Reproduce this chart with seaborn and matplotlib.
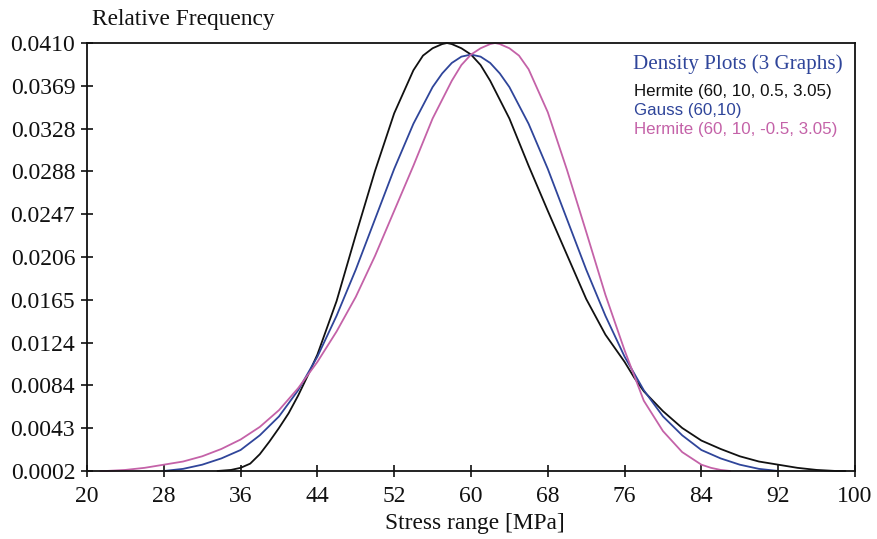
import pandas as pd
import matplotlib.pyplot as plt
import seaborn as sns

# --- Data ---
# Hermite (60, 10, 0.5, 3.05) - black
herm_pos_x = [33.6, 35, 36, 37, 38, 39, 40, 41, 42, 43, 44, 46, 48, 50, 52, 54, 55, 56, 57, 57.5,
              58, 59, 60, 61, 62, 64, 66, 68, 70, 72, 74, 76, 77, 78, 80, 82, 84, 86, 88, 90, 92,
              94, 96, 98, 99]
herm_pos_y = [0.0002, 0.0003, 0.0005, 0.0009, 0.0018, 0.0030, 0.0043, 0.0057, 0.0074, 0.0093,
              0.0113, 0.0164, 0.0227, 0.0288, 0.0343, 0.0384, 0.0398, 0.0405, 0.0409, 0.0410,
              0.0409, 0.0405, 0.0399, 0.0389, 0.0374, 0.0338, 0.0293, 0.0250, 0.0208, 0.0166,
              0.0132, 0.0106, 0.0091, 0.0078, 0.0059, 0.0043, 0.0031, 0.0023, 0.0016, 0.0011,
              0.0008, 0.0005, 0.0003, 0.0002, 0.0002]

# Gauss (60,10) - blue
gauss_x = [28, 30, 32, 34, 36, 38, 40, 42, 44, 46, 48, 50, 52, 54, 56, 57, 58, 59, 60,
           61, 62, 63, 64, 66, 68, 70, 72, 74, 76, 78, 80, 82, 84, 86, 88, 90, 92]
gauss_y = [0.0002, 0.0004, 0.0008, 0.0014, 0.0022, 0.0036, 0.0054, 0.0079, 0.0111, 0.0150,
           0.0194, 0.0242, 0.0290, 0.0333, 0.0368, 0.0381, 0.0391, 0.0397, 0.0399,
           0.0397, 0.0391, 0.0381, 0.0368, 0.0333, 0.0290, 0.0242, 0.0194, 0.0150, 0.0111,
           0.0079, 0.0054, 0.0036, 0.0022, 0.0014, 0.0008, 0.0004, 0.0002]

# Hermite (60, 10, -0.5, 3.05) - pink
herm_neg_x = [21.4, 22, 24, 26, 28, 30, 32, 34, 36, 38, 40, 42, 44, 46, 48, 50, 52, 54, 56,
              58, 59, 60, 61, 62, 62.5, 63, 64, 65, 66, 68, 70, 72, 74, 76, 77, 78, 80, 82,
              84, 85, 86, 87]
herm_neg_y = [0.0002, 0.0002, 0.0003, 0.0005, 0.0008, 0.0011, 0.0016, 0.0023, 0.0032, 0.0044,
              0.0060, 0.0081, 0.0106, 0.0135, 0.0168, 0.0207, 0.0250, 0.0293, 0.0338,
              0.0374, 0.0389, 0.0399, 0.0405, 0.0409, 0.0410, 0.0409, 0.0405, 0.0398, 0.0385,
              0.0344, 0.0289, 0.0230, 0.0170, 0.0117, 0.0093, 0.0069, 0.0040, 0.0020,
              0.0008, 0.0005, 0.0003, 0.0002]

series_names = ["Hermite (60, 10, 0.5, 3.05)", "Gauss (60,10)", "Hermite (60, 10, -0.5, 3.05)"]
series_colors = ["#111111", "#2f459a", "#c462a8"]

x_ticks = [20, 28, 36, 44, 52, 60, 68, 76, 84, 92, 100]
y_ticks = [0.0002, 0.00428, 0.00836, 0.01244, 0.01652, 0.0206, 0.02468, 0.02876, 0.03284, 0.03692, 0.0410]
y_tick_labels = ["0.0002", "0.0043", "0.0084", "0.0124", "0.0165", "0.0206",
                 "0.0247", "0.0288", "0.0328", "0.0369", "0.0410"]

# Build long-form table for seaborn
frames = []
for name, xs, ys in zip(series_names,
                        [herm_pos_x, gauss_x, herm_neg_x],
                        [herm_pos_y, gauss_y, herm_neg_y]):
    frames.append(pd.DataFrame({"x": xs, "y": ys, "series": name}))
df = pd.concat(frames, ignore_index=True)

sns.set_theme(style="white")
plt.rcParams['font.family'] = ['Liberation Serif', 'DejaVu Serif']

fig = plt.figure(figsize=(8.77, 5.39), dpi=100)
ax = fig.add_axes([0.0992, 0.1262, 0.8757, 0.7940])

sns.lineplot(data=df, x="x", y="y", hue="series", hue_order=series_names,
             palette=dict(zip(series_names, series_colors)), sort=False,
             linewidth=1.3, legend=False, ax=ax, clip_on=False)

ax.set_xlim(20, 100)
ax.set_ylim(0.0002, 0.0410)
ax.set_xticks(x_ticks)
ax.set_xticklabels([str(t) for t in x_ticks])
ax.set_yticks(y_ticks)
ax.set_yticklabels(y_tick_labels)
ax.tick_params(axis='both', direction='inout', length=9, width=1.2, colors='#111111',
               labelsize=17, labelcolor='#111111', bottom=True, left=True,
               top=False, right=False)
ax.tick_params(axis='x', pad=6)
ax.tick_params(axis='y', pad=4)
for s in ax.spines.values():
    s.set_visible(True)
    s.set_color('#111111')
    s.set_linewidth(1.3)
ax.set_xlabel("")
ax.set_ylabel("")

fig.text(0.105, 0.963, "Relative Frequency", fontsize=16.8, color='#111111',
         ha='left', va='center')
fig.text(0.5416, 0.029, "Stress range [MPa]", fontsize=16.8, color='#111111',
         ha='center', va='center')

# Legend block (text only)
ax.text(0.848, 0.951, "Density Plots (3 Graphs)", transform=ax.transAxes,
        fontsize=15.2, color='#2f459a', ha='center', va='center')
for name, col, yy in zip(series_names, series_colors, [0.886, 0.842, 0.798]):
    ax.text(0.712, yy, name, transform=ax.transAxes, fontsize=12.2, color=col,
            ha='left', va='center', family=['Liberation Sans', 'DejaVu Sans'])

plt.savefig("out.png", dpi=100)
